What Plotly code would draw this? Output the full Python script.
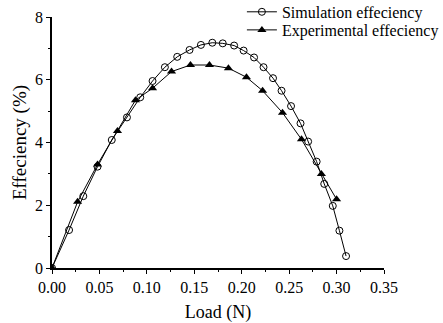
import plotly.graph_objects as go

sim_load = [0.0, 0.018, 0.033, 0.048, 0.063, 0.079, 0.093, 0.106, 0.119, 0.132, 0.145,
            0.157, 0.169, 0.180, 0.192, 0.202, 0.213, 0.223, 0.233, 0.242, 0.252,
            0.262, 0.270, 0.279, 0.287, 0.296, 0.303, 0.310]
sim_eff = [0.0, 1.21, 2.29, 3.23, 4.08, 4.80, 5.44, 5.96, 6.40, 6.73, 6.95,
           7.11, 7.18, 7.16, 7.09, 6.93, 6.71, 6.40, 6.05, 5.65, 5.16,
           4.61, 4.03, 3.39, 2.68, 1.98, 1.19, 0.38]

exp_load = [0.0, 0.027, 0.048, 0.069, 0.088, 0.106, 0.126, 0.146, 0.166, 0.186,
            0.205, 0.222, 0.243, 0.263, 0.284, 0.300]
exp_eff = [0.0, 2.11, 3.30, 4.37, 5.35, 5.73, 6.26, 6.47, 6.47, 6.37,
           6.08, 5.65, 4.95, 4.10, 3.00, 2.19]

x_ticks = [0.00, 0.05, 0.10, 0.15, 0.20, 0.25, 0.30, 0.35]
x_ticklabels = ["0.00", "0.05", "0.10", "0.15", "0.20", "0.25", "0.30", "0.35"]
y_ticks = [0, 2, 4, 6, 8]

font_family = "Liberation Serif"

fig = go.Figure()
fig.add_trace(go.Scatter(
    x=sim_load, y=sim_eff, mode="lines+markers", name="Simulation effeciency",
    line=dict(color="black", width=1),
    marker=dict(symbol="circle-open", size=7, color="black", line=dict(width=1)),
    legend="legend",
))
fig.add_trace(go.Scatter(
    x=exp_load, y=exp_eff, mode="lines+markers", name="Experimental effeciency",
    line=dict(color="black", width=1),
    marker=dict(symbol="triangle-up", size=8, color="black"),
    legend="legend2",
))

legend_common = dict(x=0.572, xanchor="left", yanchor="top",
                     bgcolor="rgba(0,0,0,0)", font=dict(size=16, family=font_family),
                     itemwidth=30)

fig.update_layout(
    width=443, height=323,
    margin=dict(l=52, r=59, t=17, b=55, autoexpand=False),
    paper_bgcolor="white", plot_bgcolor="white",
    font=dict(family=font_family, size=16, color="black"),
    showlegend=True,
    legend=dict(y=1.088, **legend_common),
    legend2=dict(y=1.016, **legend_common),
    xaxis=dict(
        range=[0, 0.35], tickvals=x_ticks, ticktext=x_ticklabels,
        showgrid=False, zeroline=False, showline=True, linecolor="black", linewidth=1.5,
        ticks="outside", ticklen=4, tickcolor="black", tickwidth=1,
        minor=dict(dtick=0.025, ticks="outside", ticklen=2, tickcolor="black"),
        title=dict(text="Load (N)", font=dict(size=18), standoff=10),
        tickfont=dict(size=16),
    ),
    yaxis=dict(
        range=[0, 8], tickvals=y_ticks,
        showgrid=False, zeroline=False, showline=True, linecolor="black", linewidth=1.5,
        ticks="outside", ticklen=4, tickcolor="black", tickwidth=1,
        minor=dict(dtick=1, ticks="outside", ticklen=2, tickcolor="black"),
        title=dict(text="Effeciency (%)", font=dict(size=19), standoff=3),
        tickfont=dict(size=16),
    ),
)

fig.write_html("out.html")
